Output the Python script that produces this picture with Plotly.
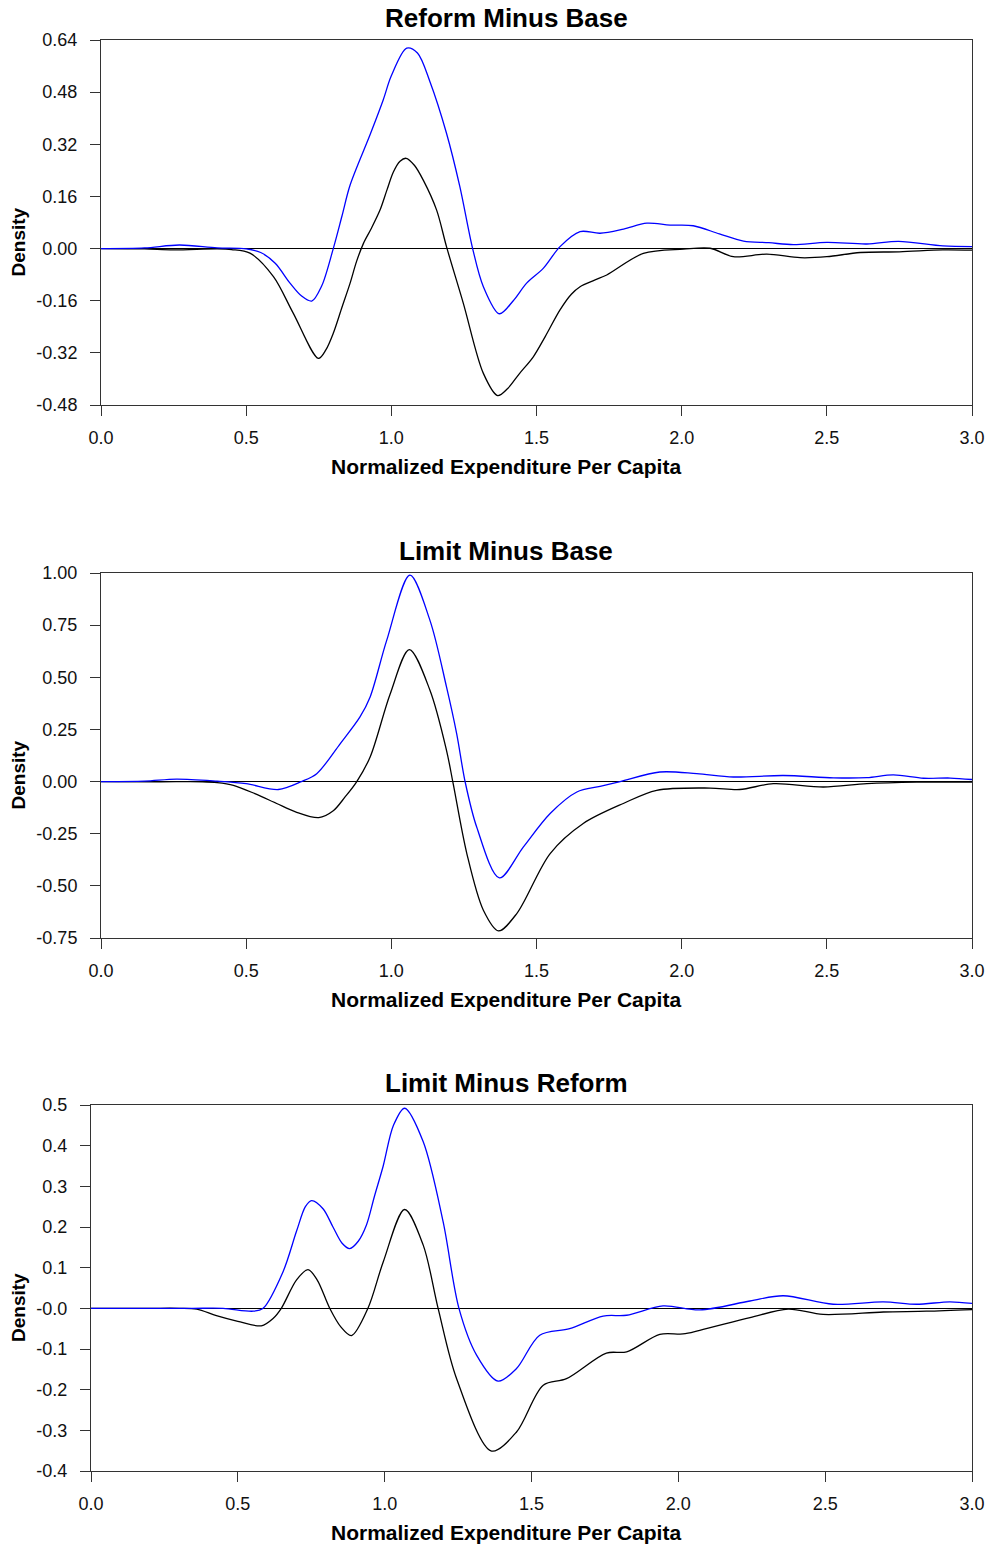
import plotly.graph_objects as go

# ---------------- data ----------------
# Panel 1: Reform Minus Base
p1_blue_x = [0, 0.15, 0.27, 0.4, 0.5, 0.55, 0.60, 0.651, 0.69, 0.726, 0.76, 0.80, 0.83, 0.858, 0.927, 0.972, 1.0, 1.053, 1.09, 1.133, 1.19, 1.236, 1.28, 1.317, 1.372, 1.42, 1.466, 1.524, 1.581, 1.65, 1.719, 1.80, 1.88, 1.96, 2.04, 2.13, 2.213, 2.30, 2.385, 2.50, 2.638, 2.747, 2.90, 3.0]
p1_blue_y = [0, 0.002, 0.011, 0.002, -0.001, -0.012, -0.045, -0.106, -0.145, -0.161, -0.115, 0.0, 0.10, 0.195, 0.35, 0.456, 0.53, 0.615, 0.60, 0.512, 0.354, 0.19, 0.0, -0.117, -0.20, -0.16, -0.106, -0.06, 0.006, 0.052, 0.047, 0.06, 0.078, 0.072, 0.070, 0.045, 0.023, 0.018, 0.012, 0.019, 0.014, 0.022, 0.008, 0.006]
p1_black_x = [0, 0.15, 0.25, 0.4, 0.45, 0.513, 0.594, 0.662, 0.749, 0.775, 0.80, 0.83, 0.858, 0.88, 0.904, 0.93, 0.961, 0.985, 1.007, 1.03, 1.051, 1.08, 1.11, 1.156, 1.19, 1.248, 1.317, 1.366, 1.40, 1.44, 1.489, 1.53, 1.581, 1.62, 1.65, 1.70, 1.742, 1.868, 2.006, 2.098, 2.178, 2.293, 2.408, 2.50, 2.615, 2.75, 2.90, 3.0]
p1_black_y = [0, -0.001, -0.004, -0.001, -0.003, -0.014, -0.086, -0.198, -0.337, -0.31, -0.26, -0.18, -0.106, -0.04, 0.016, 0.06, 0.118, 0.18, 0.235, 0.268, 0.277, 0.255, 0.21, 0.118, 0.006, -0.168, -0.383, -0.451, -0.43, -0.385, -0.332, -0.27, -0.188, -0.14, -0.117, -0.097, -0.081, -0.015, -0.002, 0.001, -0.025, -0.017, -0.028, -0.025, -0.012, -0.010, -0.004, -0.005]

# Panel 2: Limit Minus Base
p2_blue_x = [0, 0.15, 0.26, 0.4, 0.5, 0.611, 0.69, 0.743, 0.823, 0.892, 0.927, 0.984, 1.064, 1.133, 1.19, 1.225, 1.254, 1.294, 1.372, 1.455, 1.547, 1.639, 1.719, 1.788, 1.925, 2.052, 2.178, 2.35, 2.523, 2.638, 2.729, 2.833, 2.925, 3.0]
p2_blue_y = [0, 0.002, 0.012, 0.002, -0.01, -0.038, 0.0, 0.038, 0.18, 0.31, 0.406, 0.677, 0.99, 0.773, 0.454, 0.23, 0.0, -0.218, -0.462, -0.313, -0.153, -0.05, -0.023, 0.0, 0.046, 0.038, 0.022, 0.029, 0.018, 0.019, 0.032, 0.016, 0.017, 0.01]
p2_black_x = [0, 0.2, 0.35, 0.4, 0.456, 0.53, 0.605, 0.67, 0.75, 0.80, 0.84, 0.881, 0.927, 0.996, 1.062, 1.133, 1.19, 1.213, 1.26, 1.317, 1.369, 1.432, 1.547, 1.661, 1.799, 1.914, 2.098, 2.20, 2.316, 2.488, 2.638, 2.81, 3.0]
p2_black_y = [0, -0.001, -0.001, -0.005, -0.018, -0.058, -0.105, -0.145, -0.173, -0.14, -0.075, 0.0, 0.118, 0.42, 0.633, 0.438, 0.15, -0.01, -0.345, -0.617, -0.716, -0.633, -0.345, -0.201, -0.105, -0.042, -0.031, -0.038, -0.01, -0.026, -0.01, -0.003, -0.002]

# Panel 3: Limit Minus Reform
p3_blue_x = [0, 0.2, 0.347, 0.45, 0.552, 0.586, 0.654, 0.70, 0.73, 0.751, 0.79, 0.824, 0.855, 0.881, 0.91, 0.938, 0.965, 0.995, 1.03, 1.068, 1.131, 1.199, 1.253, 1.313, 1.386, 1.449, 1.528, 1.63, 1.744, 1.824, 1.948, 2.073, 2.244, 2.357, 2.527, 2.698, 2.811, 2.925, 3.0]
p3_blue_y = [0, 0, 0, 0.0, -0.007, 0.0, 0.09, 0.19, 0.25, 0.265, 0.245, 0.20, 0.16, 0.147, 0.165, 0.205, 0.275, 0.35, 0.45, 0.492, 0.41, 0.213, 0.0, -0.115, -0.179, -0.148, -0.066, -0.05, -0.019, -0.017, 0.006, -0.004, 0.018, 0.031, 0.01, 0.016, 0.01, 0.016, 0.012]
p3_black_x = [0, 0.2, 0.3, 0.36, 0.427, 0.5, 0.58, 0.62, 0.648, 0.70, 0.739, 0.77, 0.813, 0.85, 0.887, 0.943, 0.995, 1.068, 1.131, 1.182, 1.245, 1.364, 1.449, 1.54, 1.619, 1.755, 1.824, 1.937, 2.016, 2.073, 2.244, 2.374, 2.493, 2.698, 2.845, 3.0]
p3_black_y = [0, 0, 0, -0.002, -0.018, -0.032, -0.043, -0.025, 0.0, 0.07, 0.095, 0.07, 0.0, -0.045, -0.067, 0.0, 0.114, 0.243, 0.156, 0.0, -0.173, -0.351, -0.304, -0.189, -0.173, -0.11, -0.107, -0.064, -0.063, -0.054, -0.023, -0.002, -0.015, -0.009, -0.007, -0.003]

titles = ["Reform Minus Base", "Limit Minus Base", "Limit Minus Reform"]
x_title = "Normalized Expenditure Per Capita"
y_title = "Density"
x_ticks = [0, 0.5, 1.0, 1.5, 2.0, 2.5, 3.0]
x_ticklabels = ["0.0", "0.5", "1.0", "1.5", "2.0", "2.5", "3.0"]
y1_ticks = [-0.48, -0.32, -0.16, 0, 0.16, 0.32, 0.48, 0.64]
y1_ticklabels = ["-0.48", "-0.32", "-0.16", "0.00", "0.16", "0.32", "0.48", "0.64"]
y2_ticks = [-0.75, -0.5, -0.25, 0, 0.25, 0.5, 0.75, 1.0]
y2_ticklabels = ["-0.75", "-0.50", "-0.25", "0.00", "0.25", "0.50", "0.75", "1.00"]
y3_ticks = [-0.4, -0.3, -0.2, -0.1, 0, 0.1, 0.2, 0.3, 0.4, 0.5]
y3_ticklabels = ["-0.4", "-0.3", "-0.2", "-0.1", "-0.0", "0.1", "0.2", "0.3", "0.4", "0.5"]

# ---------------- figure ----------------
W, H = 994, 1547
FONT = "Liberation Sans, Arial, sans-serif"

fig = go.Figure()
panels = [
    (p1_blue_x, p1_blue_y, p1_black_x, p1_black_y, ""),
    (p2_blue_x, p2_blue_y, p2_black_x, p2_black_y, "2"),
    (p3_blue_x, p3_blue_y, p3_black_x, p3_black_y, "3"),
]
for bx, by, kx, ky, s in panels:
    fig.add_trace(go.Scatter(x=kx, y=ky, mode="lines", line=dict(color="black", width=1.3, shape="spline", smoothing=0.9),
                             xaxis="x" + s, yaxis="y" + s, showlegend=False, hoverinfo="skip"))
    fig.add_trace(go.Scatter(x=bx, y=by, mode="lines", line=dict(color="#0000ff", width=1.3, shape="spline", smoothing=0.9),
                             xaxis="x" + s, yaxis="y" + s, showlegend=False, hoverinfo="skip"))

# pixel boxes: (left, right, top, bottom)
boxes = [(101, 972, 40, 405), (101, 972, 573, 938), (91, 972, 1105, 1471)]
yranges = [(-0.48, 0.64), (-0.75, 1.0), (-0.4, 0.5)]
yticks = [(y1_ticks, y1_ticklabels), (y2_ticks, y2_ticklabels), (y3_ticks, y3_ticklabels)]

axis_common = dict(showline=True, linecolor="#333333", linewidth=1, mirror=True, automargin=False,
                   ticks="outside", ticklen=10, tickcolor="#333333", tickwidth=1,
                   showgrid=False, tickfont=dict(family=FONT, size=18, color="#111111"))

layout = dict(width=W, height=H, margin=dict(l=0, r=0, t=0, b=0, autoexpand=False),
              plot_bgcolor="white", paper_bgcolor="white", annotations=[])
for i, (l, r, t, b) in enumerate(boxes):
    s = "" if i == 0 else str(i + 1)
    layout["xaxis" + s] = dict(domain=[l / W, r / W], range=[0, 3], anchor="y" + s,
                               tickvals=x_ticks, ticktext=x_ticklabels, zeroline=False,
                               ticklabelstandoff=6, **axis_common)
    tv, tt = yticks[i]
    layout["yaxis" + s] = dict(domain=[1 - b / H, 1 - t / H], range=list(yranges[i]), anchor="x" + s,
                               tickvals=tv, ticktext=tt, zeroline=True, zerolinecolor="black",
                               zerolinewidth=1, ticklabelstandoff=9, **axis_common)
    cx = 506
    layout["annotations"].append(dict(text="<b>" + titles[i] + "</b>", x=cx / W, y=1 - (t - 22) / H,
                                      xref="paper", yref="paper", showarrow=False, xanchor="center", yanchor="middle",
                                      font=dict(family=FONT, size=26, color="black")))
    layout["annotations"].append(dict(text="<b>" + x_title + "</b>", x=cx / W, y=1 - (b + 61) / H,
                                      xref="paper", yref="paper", showarrow=False, xanchor="center", yanchor="middle",
                                      font=dict(family=FONT, size=21, color="black")))
    layout["annotations"].append(dict(text="<b>" + y_title + "</b>", x=18 / W, y=1 - ((t + b) / 2 + 20) / H,
                                      xref="paper", yref="paper", showarrow=False, xanchor="center", yanchor="middle",
                                      textangle=-90, font=dict(family=FONT, size=19, color="black")))

fig.update_layout(**layout)
fig.write_html("out.html")
